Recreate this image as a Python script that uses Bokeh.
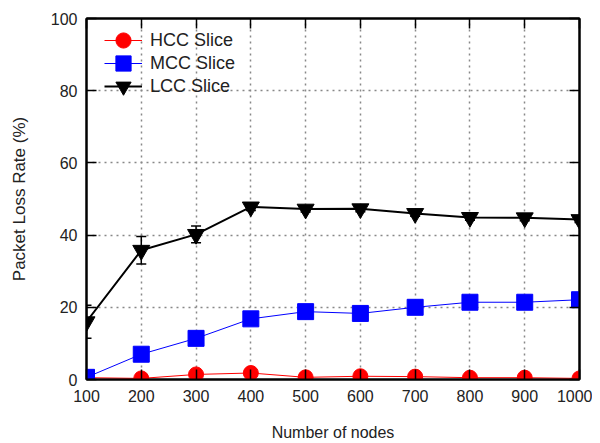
from bokeh.plotting import figure
from bokeh.models import (ColumnDataSource, Whisker, TeeHead, LinearAxis, Legend, LegendItem,
                          FixedTicker, Range1d, CustomJSTickFormatter)
from bokeh.embed import file_html
from bokeh.resources import INLINE

nodes = [100, 200, 300, 400, 500, 600, 700, 800, 900, 1000]
hcc = [0.5, 0.3, 1.4, 1.8, 0.6, 0.9, 0.8, 0.5, 0.5, 0.3]
mcc = [0.6, 7.0, 11.4, 16.8, 18.8, 18.3, 20.0, 21.4, 21.4, 22.1]
lcc = [16.0, 35.8, 40.2, 47.8, 47.2, 47.3, 46.0, 44.9, 44.8, 44.3]
lcc_err = [4.6, 3.8, 2.3, 1.0, 0.8, 0.8, 0.8, 0.8, 0.8, 0.8]
mcc_err = [0.3, 0.5, 0.5, 0.5, 0.5, 0.5, 0.5, 0.5, 0.5, 0.5]
hcc_err = [0.2, 0.2, 0.3, 0.3, 0.2, 0.2, 0.2, 0.2, 0.2, 0.2]
y_ticks = [0, 20, 40, 60, 80, 100]
series_labels = ["HCC Slice", "MCC Slice", "LCC Slice"]

FONT = "Liberation Sans"

p = figure(width=592, height=443, output_backend="svg", toolbar_location=None,
           x_range=Range1d(100, 1000), y_range=Range1d(0, 100),
           min_border_left=86, min_border_right=13, min_border_top=18, min_border_bottom=64)

p.outline_line_color = "black"
p.outline_line_width = 2
p.background_fill_color = "white"

for ax in (p.xaxis[0], p.yaxis[0]):
    ax.axis_line_color = "black"
    ax.axis_line_width = 2
    ax.major_tick_in = 10
    ax.major_tick_out = 0
    ax.minor_tick_line_color = None
    ax.major_tick_line_width = 1.5
    ax.major_label_text_font = FONT
    ax.major_label_text_font_size = "16px"
    ax.major_label_text_color = "#222222"
    ax.axis_label_text_font = FONT
    ax.axis_label_text_font_style = "normal"
    ax.axis_label_text_color = "#222222"

p.xaxis[0].axis_label_text_font_size = "16px"
p.yaxis[0].axis_label_text_font_size = "17px"
p.xaxis[0].ticker = FixedTicker(ticks=nodes)
p.yaxis[0].ticker = FixedTicker(ticks=y_ticks)
p.xaxis[0].axis_label = "Number of nodes"
p.yaxis[0].axis_label = "Packet Loss Rate (%)"
p.xaxis[0].major_label_standoff = 10
p.xaxis[0].axis_label_standoff = 19
p.yaxis[0].major_label_standoff = 9
p.yaxis[0].axis_label_standoff = 19

blank = CustomJSTickFormatter(code="return ''")
# mirror ticks
top = LinearAxis(ticker=FixedTicker(ticks=nodes), formatter=blank,
                 major_label_standoff=0, major_tick_in=10, major_tick_out=0,
                 minor_tick_line_color=None, axis_line_color="black", axis_line_width=2,
                 major_tick_line_width=1.5)
right = LinearAxis(ticker=FixedTicker(ticks=y_ticks), formatter=blank,
                   major_label_standoff=0, major_tick_in=10, major_tick_out=0,
                   minor_tick_line_color=None, axis_line_color="black", axis_line_width=2,
                   major_tick_line_width=1.5)
p.add_layout(top, "above")
p.add_layout(right, "right")

p.xgrid.ticker = FixedTicker(ticks=nodes)
p.ygrid.ticker = FixedTicker(ticks=y_ticks)
for g in (p.xgrid[0], p.ygrid[0]):
    g.grid_line_color = "#888888"
    g.grid_line_width = 1.5
    g.grid_line_dash = "2 4"

def series(y, err, color, marker, size, lw):
    src = ColumnDataSource(dict(x=nodes, y=y,
                                lo=[a - b for a, b in zip(y, err)],
                                hi=[a + b for a, b in zip(y, err)]))
    w = Whisker(source=src, base="x", lower="lo", upper="hi", dimension="height",
                line_color=color, line_width=1.5,
                lower_head=TeeHead(size=10, line_color=color, line_width=1.5),
                upper_head=TeeHead(size=10, line_color=color, line_width=1.5))
    p.add_layout(w)
    ln = p.line("x", "y", source=src, line_color=color, line_width=lw)
    sc = p.scatter("x", "y", source=src, marker=marker, size=size, fill_color=color,
                   line_color=color)
    return ln, sc

renderers = [
    series(hcc, hcc_err, "#ff0000", "circle", 15, 1),
    series(mcc, mcc_err, "#0000ff", "square", 16, 1),
    series(lcc, lcc_err, "#000000", "inverted_triangle", 17, 2),
]

# one legend per entry so that rows can be tighter than the glyph box
for i, (lab, rs) in enumerate(zip(series_labels, renderers)):
    lg = Legend(items=[LegendItem(label=lab, renderers=list(rs))],
                location=(18, 320 - 23 * i), padding=0, spacing=0,
                label_height=23, glyph_height=38, glyph_width=38, label_standoff=8,
                border_line_alpha=0, background_fill_alpha=0,
                label_text_font=FONT, label_text_font_size="18px",
                label_text_color="#222222", margin=0)
    p.add_layout(lg)

open("out.html", "w").write(file_html(p, INLINE))
